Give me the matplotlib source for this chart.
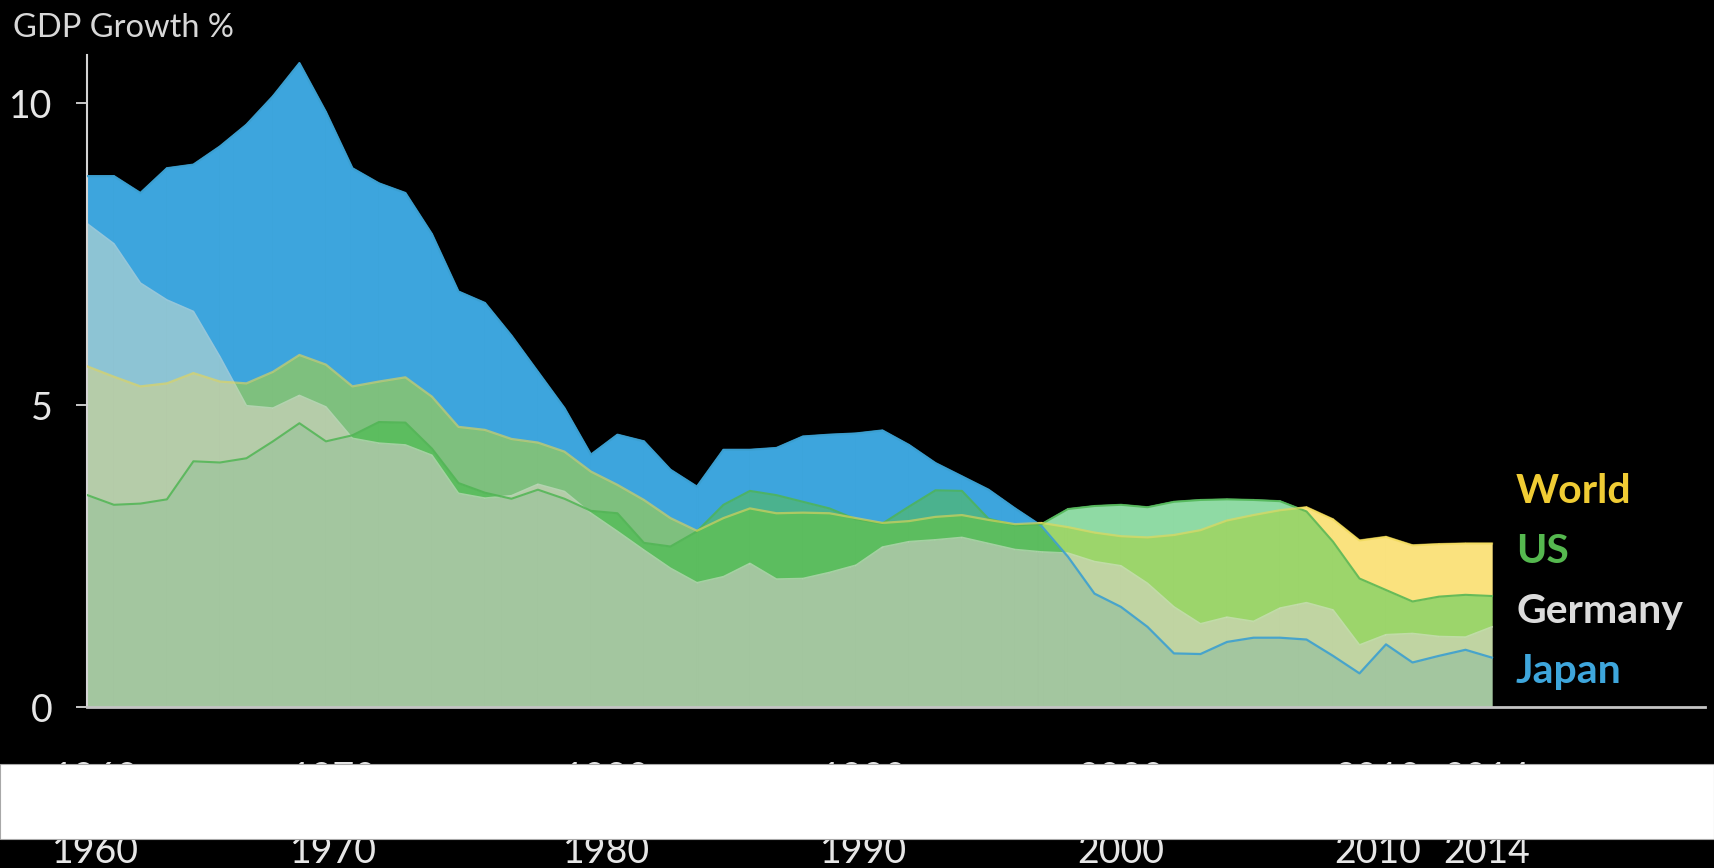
"""
GDP growth, overlapping areas - dark video style
"""
import numpy as np
import matplotlib
matplotlib.use("Agg")
import matplotlib.pyplot as plt
from matplotlib.collections import PolyCollection
from matplotlib.patches import Rectangle
from matplotlib.transforms import blended_transform_factory

# ---- data ----
years = list(range(1961, 2015))
japan = [8.79, 8.79, 8.51, 8.92, 8.98, 9.28, 9.64, 10.11, 10.66, 9.85,
         8.92, 8.67, 8.51, 7.83, 6.88, 6.69, 6.15, 5.55, 4.95, 4.18,
         4.51, 4.40, 3.93, 3.65, 4.26, 4.26, 4.29, 4.48, 4.51, 4.53,
         4.58, 4.34, 4.04, 3.82, 3.60, 3.29, 3.00, 2.49, 1.88, 1.66,
         1.33, 0.89, 0.88, 1.08, 1.15, 1.15, 1.12, 0.85, 0.56, 1.04,
         0.74, 0.85, 0.95, 0.82]
world = [5.64, 5.47, 5.31, 5.36, 5.53, 5.39, 5.36, 5.55, 5.83, 5.67,
         5.31, 5.39, 5.46, 5.14, 4.64, 4.59, 4.44, 4.38, 4.23, 3.90,
         3.68, 3.43, 3.13, 2.92, 3.13, 3.29, 3.21, 3.22, 3.21, 3.13,
         3.05, 3.08, 3.15, 3.18, 3.10, 3.03, 3.05, 2.98, 2.89, 2.83,
         2.81, 2.85, 2.93, 3.09, 3.18, 3.26, 3.31, 3.11, 2.76, 2.82,
         2.68, 2.70, 2.71, 2.71]
us = [3.51, 3.35, 3.37, 3.44, 4.07, 4.05, 4.12, 4.40, 4.70, 4.40,
      4.50, 4.72, 4.71, 4.28, 3.71, 3.55, 3.45, 3.60, 3.45, 3.25,
      3.21, 2.72, 2.66, 2.91, 3.35, 3.58, 3.51, 3.40, 3.29, 3.11,
      3.04, 3.32, 3.59, 3.58, 3.12, 3.01, 3.03, 3.28, 3.33, 3.35,
      3.31, 3.40, 3.43, 3.44, 3.43, 3.41, 3.24, 2.74, 2.13, 1.94,
      1.75, 1.83, 1.86, 1.84]
germany = [8.00, 7.67, 7.02, 6.74, 6.55, 5.80, 4.99, 4.95, 5.16, 4.97,
           4.45, 4.37, 4.34, 4.17, 3.54, 3.46, 3.50, 3.69, 3.57, 3.21,
           2.91, 2.60, 2.30, 2.06, 2.16, 2.38, 2.12, 2.13, 2.23, 2.35,
           2.65, 2.74, 2.77, 2.81, 2.71, 2.61, 2.57, 2.55, 2.41, 2.34,
           2.05, 1.66, 1.38, 1.49, 1.42, 1.64, 1.73, 1.61, 1.03, 1.20,
           1.22, 1.17, 1.16, 1.33]

y_ticks = [0, 5, 10]
x_tick_labels = ["1960", "1970", "1980", "1990", "2000", "2010", "2014"]
legend_labels = ["World", "US", "Germany", "Japan"]

# ---- style ----
BG = "#000000"
W_PX, H_PX, DPI = 1714, 868, 100
x_tick_pos = [1961.3, 1970.3, 1980.6, 1990.3, 2000.0, 2009.7, 2013.8]

codes = ["J", "W", "U", "G"]
line_colors = {"J": "#3b9fd0", "W": "#eed84e", "U": "#4fb553", "G": "#dfe3d8"}
legend_colors = {"World": "#f0cc34", "US": "#55b84f", "Germany": "#dcdcdc", "Japan": "#3ea6dc"}
# colour of a band, keyed by the (sorted) set of series that lie above it
region_colors = {
    "J": "#3da5dd", "W": "#fae27e", "U": "#8fdaa4", "G": "#cfd8cf",
    "JW": "#7ec07e", "JU": "#4bb28e", "UW": "#9cd56b", "GJ": "#8dc4d4",
    "GW": "#e2dca6", "GU": "#bcdcbf", "GJW": "#b5cca9", "JUW": "#5cbd5f",
    "GUW": "#c0d4a2", "GJU": "#a8cdb9", "GJUW": "#a3c69f",
}

plt.rcParams.update({
    "font.family": ["Lato", "DejaVu Sans"],
    "figure.facecolor": BG,
    "axes.facecolor": BG,
    "savefig.facecolor": BG,
})


def band_polygons(x, series):
    """Split the overlapping areas into bands coloured by which series cover them."""
    Y = np.array([series[c] for c in codes], dtype=float)
    polys, cols = [], []
    for i in range(len(x) - 1):
        a, b = Y[:, i], Y[:, i + 1]
        ts = {0.0, 1.0}
        for p in range(len(codes)):
            for q in range(p + 1, len(codes)):
                d0, d1 = a[p] - a[q], b[p] - b[q]
                if d0 * d1 < 0:
                    ts.add(d0 / (d0 - d1))
        ts = sorted(ts)
        for t0, t1 in zip(ts[:-1], ts[1:]):
            v0 = a + (b - a) * t0
            v1 = a + (b - a) * t1
            xa = x[i] + (x[i + 1] - x[i]) * t0
            xb = x[i] + (x[i + 1] - x[i]) * t1
            order = np.argsort((v0 + v1) / 2)
            lo0 = lo1 = 0.0
            for k, idx in enumerate(order):
                key = "".join(sorted(codes[j] for j in order[k:]))
                hi0, hi1 = v0[idx], v1[idx]
                polys.append([(xa, lo0), (xb, lo1), (xb, hi1), (xa, hi0)])
                cols.append(region_colors[key])
                lo0, lo1 = hi0, hi1
    return polys, cols


fig = plt.figure(figsize=(W_PX / DPI, H_PX / DPI), dpi=DPI)

# axes placement in pixels (from the reference)
x0_px, x_end_px, right_px = 87.4, 1492.0, 1705.0
y0_px, top_px, y_unit_px = 707.2, 55.0, 60.42
ax = fig.add_axes([x0_px / W_PX, (H_PX - y0_px) / H_PX,
                   (right_px - x0_px) / W_PX, (y0_px - top_px) / H_PX])
ax.set_facecolor(BG)

series = {"J": japan, "W": world, "U": us, "G": germany}
polys, cols = band_polygons(years, series)
ax.add_collection(PolyCollection(polys, facecolors=cols, edgecolors=cols,
                                 linewidths=1.0, zorder=1))

ax.plot(years, germany, color=line_colors["G"], lw=1.2, alpha=0.55, zorder=2)
ax.plot(years, japan, color=line_colors["J"], lw=1.6, alpha=0.9, zorder=3)
ax.plot(years, us, color=line_colors["U"], lw=1.5, alpha=0.85, zorder=3)
ax.plot(years, world, color=line_colors["W"], lw=1.6, alpha=0.6, zorder=4)

per_year = (x_end_px - x0_px) / (years[-1] - years[0])
ax.set_xlim(years[0], years[-1] + (right_px - x_end_px) / per_year)
ax.set_ylim(0, (y0_px - top_px) / y_unit_px)

for side in ("top", "right"):
    ax.spines[side].set_visible(False)
ax.spines["left"].set_color("#d4d4d4")
ax.spines["left"].set_linewidth(1.5)
ax.spines["bottom"].set_color("#c4c4c4")
ax.spines["bottom"].set_linewidth(2.0)
ax.spines["bottom"].set_zorder(5)

ax.set_yticks(y_ticks)
ax.tick_params(axis="y", length=8.2, width=1.4, color="#c8c8c8", pad=17,
               labelsize=27, labelcolor="#e6e6e6")
ax.set_xticks(x_tick_pos, x_tick_labels)
ax.tick_params(axis="x", length=0, pad=39, labelsize=27, labelcolor="#e6e6e6")

fig.text(13 / W_PX, (H_PX - 37) / H_PX, "GDP Growth %", fontsize=23.5,
         color="#d8d8d8", va="baseline", ha="left")

for i, lab in enumerate(legend_labels):
    fig.text(1516 / W_PX, (H_PX - (503 + 60 * i)) / H_PX, lab, fontsize=29.5,
             fontweight="bold", color=legend_colors[lab], va="baseline", ha="left")

# frame artefact: white band across the year labels, labels repeated below it
band = Rectangle((0, (H_PX - 839) / H_PX), 1, 75 / H_PX, transform=fig.transFigure,
                 facecolor="white", edgecolor="#a8a8a8", linewidth=0.8, zorder=10)
fig.add_artist(band)
trans = blended_transform_factory(ax.transData, fig.transFigure)
for pos, lab in zip(x_tick_pos, x_tick_labels):
    fig.text(pos, (H_PX - 863) / H_PX, lab, transform=trans, fontsize=27,
             color="#e6e6e6", ha="center", va="baseline", zorder=5)

fig.savefig("out.png", dpi=DPI, facecolor=BG)
